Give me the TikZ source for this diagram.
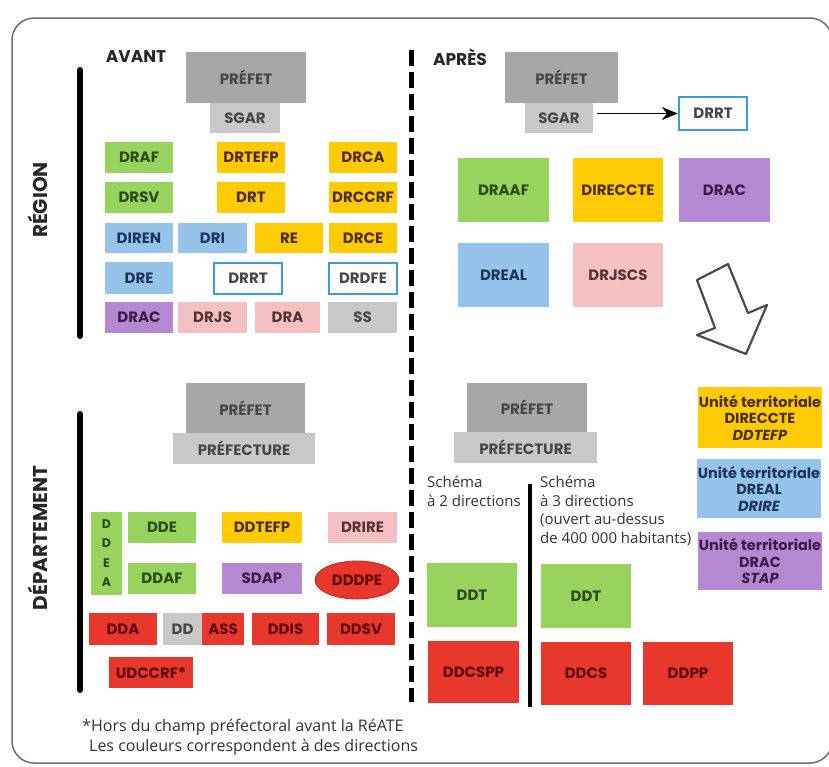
\documentclass[tikz,border=0pt]{standalone}
\usepackage{fontspec}
\setmainfont{Poppins}
\newfontfamily\bodyfont{Open Sans}
\usetikzlibrary{arrows.meta,shapes.geometric}
\definecolor{cgreen}{HTML}{98D35E}
\definecolor{tgreen}{HTML}{2C4A16}
\definecolor{cyellow}{HTML}{FFCB05}
\definecolor{tyellow}{HTML}{4A2E00}
\definecolor{cblue}{HTML}{96C3EA}
\definecolor{tblue}{HTML}{1C3558}
\definecolor{cpurple}{HTML}{B588D2}
\definecolor{tpurple}{HTML}{3A1A4A}
\definecolor{cpink}{HTML}{F4C0C1}
\definecolor{tpink}{HTML}{553333}
\definecolor{cred}{HTML}{E8372C}
\definecolor{tred}{HTML}{5E0808}
\definecolor{dred}{HTML}{B82620}
\definecolor{cgrayd}{HTML}{A9A6A6}
\definecolor{cgrayl}{HTML}{C9C7C7}
\definecolor{tgray}{HTML}{4A4646}
\definecolor{cline}{HTML}{3D9BDA}
\definecolor{cframe}{HTML}{6E6E6E}
\definecolor{carrow}{HTML}{4A4A4A}
\newcommand\bx[7]{\node[#6, minimum width={(#4-#2)*1pt}, minimum height={(#5-#3)*1pt}] (#1) at ({(#2+#4)/2},{(#3+#5)/2}) {#7};}
\begin{document}
\begin{tikzpicture}[x=1pt,y=-1pt,
  lbl/.style={rectangle, inner sep=0pt, align=center, font=\bfseries\fontsize{15}{17}\selectfont},
  gbox/.style={lbl, fill=cgreen, text=tgreen},
  ybox/.style={lbl, fill=cyellow, text=tyellow},
  bbox/.style={lbl, fill=cblue, text=tblue},
  pbox/.style={lbl, fill=cpurple, text=tpurple},
  kbox/.style={lbl, fill=cpink, text=tpink},
  rbox/.style={lbl, fill=cred, text=tred},
  lgbox/.style={lbl, fill=cgrayl, text=tgray},
  dgbox/.style={lbl, fill=cgrayd, text=tgray},
  obox/.style={lbl, fill=white, draw=cline, line width=2.5pt, text=tgray},
  head/.style={inner sep=0pt, font=\bfseries\fontsize{17}{19}\selectfont, text=black!85},
  side/.style={inner sep=0pt, rotate=90, font=\bfseries\fontsize{20}{22}\selectfont, text=black!85},
  unit/.style={font=\bfseries\fontsize{14.5}{16.5}\selectfont},
  body/.style={inner sep=0pt, align=left, font=\bodyfont\fontsize{15}{18.5}\selectfont, text=black!80},
  bar/.style={line width=6pt, line cap=round, black},
  conn/.style={line width=1.5pt, black, -{Stealth[length=16pt,width=13pt]}}
]
\useasboundingbox (0,0) rectangle (829,766);
\clip (0,0) rectangle (829,766);
\fill[white] (0,0) rectangle (829,766);
\draw[cframe, line width=1.5pt, rounded corners=22pt] (12,18) rectangle (832,763);

% headings
\node[head] (avant) at (136,57) {AVANT};
\node[head] (apres) at (460,57) {APRÈS};
\node[side] (region) at (38,200) {RÉGION};
\node[side] (dept) at (38,538) {DÉPARTEMENT};

% bars
\coordinate (b1t) at (80,70); \coordinate (b1b) at (80,336);
\coordinate (b2t) at (80,414); \coordinate (b2b) at (80,690);
\draw[bar] (b1t) -- (b1b);
\draw[bar] (b2t) -- (b2b);
\coordinate (dt) at (411,50); \coordinate (db) at (411,702);
\draw[line width=5pt, black, dash pattern=on 16pt off 6pt] (dt) -- (db);
\coordinate (st) at (530,484); \coordinate (sb) at (530,707);
\draw[line width=3.5pt, black] (st) -- (sb);

% ===== AVANT region
\bx{prefA}{186}{52}{306}{103}{dgbox}{PRÉFET}
\bx{sgarA}{210}{103}{280}{133}{lgbox}{SGAR}
\bx{draf}{105}{142}{173}{173}{gbox}{DRAF}
\bx{drtefp}{217}{142}{285}{173}{ybox}{DRTEFP}
\bx{drca}{329}{142}{397}{173}{ybox}{DRCA}
\bx{drsv}{105}{182}{173}{213}{gbox}{DRSV}
\bx{drt}{217}{182}{285}{213}{ybox}{DRT}
\bx{drccrf}{329}{182}{397}{213}{ybox}{DRCCRF}
\bx{diren}{105}{223}{173}{253}{bbox}{DIREN}
\bx{dri}{178}{223}{247}{253}{bbox}{DRI}
\bx{re}{255}{223}{323}{253}{ybox}{RE}
\bx{drce}{329}{223}{397}{253}{ybox}{DRCE}
\bx{dre}{105}{262}{173}{294}{bbox}{DRE}
\bx{drrtA}{214}{263}{282}{294}{obox}{DRRT}
\bx{drdfe}{329}{263}{397}{294}{obox}{DRDFE}
\bx{dracA}{105}{302}{173}{333}{pbox}{DRAC}
\bx{drjs}{178}{302}{247}{333}{kbox}{DRJS}
\bx{dra}{255}{302}{320}{333}{kbox}{DRA}
\bx{ss}{328}{302}{397}{333}{lgbox}{SS}

% ===== APRES region
\bx{prefB}{505}{52}{618}{103}{dgbox}{PRÉFET}
\bx{sgarB}{525}{103}{593}{133}{lgbox}{SGAR}
\bx{drrtB}{679}{97}{747}{130}{obox}{DRRT}
\coordinate (sgE) at ([xshift=4pt]sgarB.east |- drrtB.west);
\draw[conn] (sgE) -- (drrtB.west);
\bx{draaf}{458}{158}{549}{222}{gbox}{DRAAF}
\bx{direccte}{573}{158}{663}{222}{ybox}{DIRECCTE}
\bx{dracB}{679}{158}{770}{222}{pbox}{DRAC}
\bx{dreal}{458}{243}{549}{307}{bbox}{DREAL}
\bx{drjscs}{573}{243}{663}{307}{kbox}{DRJSCS}
\draw[carrow, line width=2.2pt, line join=round]
  (697,280) -- (728,264) -- (748,313) -- (767,305) -- (746,354) -- (697,335) -- (715,328) -- cycle;

% ===== AVANT departement
\bx{prefC}{186}{383}{305}{433}{dgbox}{PRÉFET}
\bx{prefectC}{173}{433}{315}{464}{lgbox}{PRÉFECTURE}
\bx{ddea}{91}{512}{122}{595}{gbox}{}
\node[lbl, text=tgreen, font=\bfseries\fontsize{12.5}{19.3}\selectfont] (ddeat) at (106.5,553) {D\\D\\E\\A};
\bx{dde}{128}{512}{196}{543}{gbox}{DDE}
\bx{ddtefp}{222}{512}{302}{543}{ybox}{DDTEFP}
\bx{drire}{328}{512}{397}{543}{kbox}{DRIRE}
\bx{ddaf}{128}{563}{196}{594}{gbox}{DDAF}
\bx{sdap}{222}{563}{302}{594}{pbox}{SDAP}
\node[ellipse, inner sep=0pt, minimum width=84pt, minimum height=38pt, fill=cred, draw=dred, line width=0.8pt, text=tred, font=\bfseries\fontsize{15}{17}\selectfont] (dddpe) at (357,580) {DDDPE};
\bx{dda}{89}{613}{157}{645}{rbox}{DDA}
\bx{dd}{163}{613}{202}{645}{lgbox}{DD}
\bx{ass}{202}{613}{244}{645}{rbox}{ASS}
\bx{ddis}{252}{613}{319}{645}{rbox}{DDIS}
\bx{ddsv}{327}{613}{395}{645}{rbox}{DDSV}
\bx{udccrf}{109}{657}{193}{688}{rbox}{UDCCRF*}

% ===== APRES departement
\bx{prefD}{467}{383}{587}{432}{dgbox}{PRÉFET}
\bx{prefectD}{454}{432}{597}{463}{lgbox}{PRÉFECTURE}
\node[body, anchor=north west] (sch2) at (427,476) {Schéma\\à 2 directions};
\node[body, anchor=north west] (sch3) at (540,476) {Schéma\\à 3 directions\\(ouvert au-dessus\\de 400 000 habitants)};
\bx{ddt1}{427}{563}{517}{627}{gbox}{DDT}
\bx{ddt2}{541}{564}{631}{628}{gbox}{DDT}
\bx{ddcspp}{428}{641}{519}{703}{rbox}{DDCSPP}
\bx{ddcs}{541}{642}{631}{705}{rbox}{DDCS}
\bx{ddpp}{643}{642}{733}{705}{rbox}{DDPP}
\bx{utA}{698}{387}{822}{448}{ybox,unit}{Unité territoriale\\DIRECCTE\\\textit{DDTEFP}}
\bx{utB}{697}{459}{821}{518}{bbox,unit}{Unité territoriale\\DREAL\\\textit{DRIRE}}
\bx{utC}{698}{532}{822}{590}{pbox,unit}{Unité territoriale\\DRAC\\\textit{STAP}}

% footnote
\node[body, anchor=west, font=\bodyfont\fontsize{16}{18}\selectfont] (fn1) at (82,727) {*Hors du champ préfectoral avant la RéATE};
\node[body, anchor=west, font=\bodyfont\fontsize{16}{18}\selectfont] (fn2) at (89,747) {Les couleurs correspondent à des directions};
\end{tikzpicture}
\end{document}
